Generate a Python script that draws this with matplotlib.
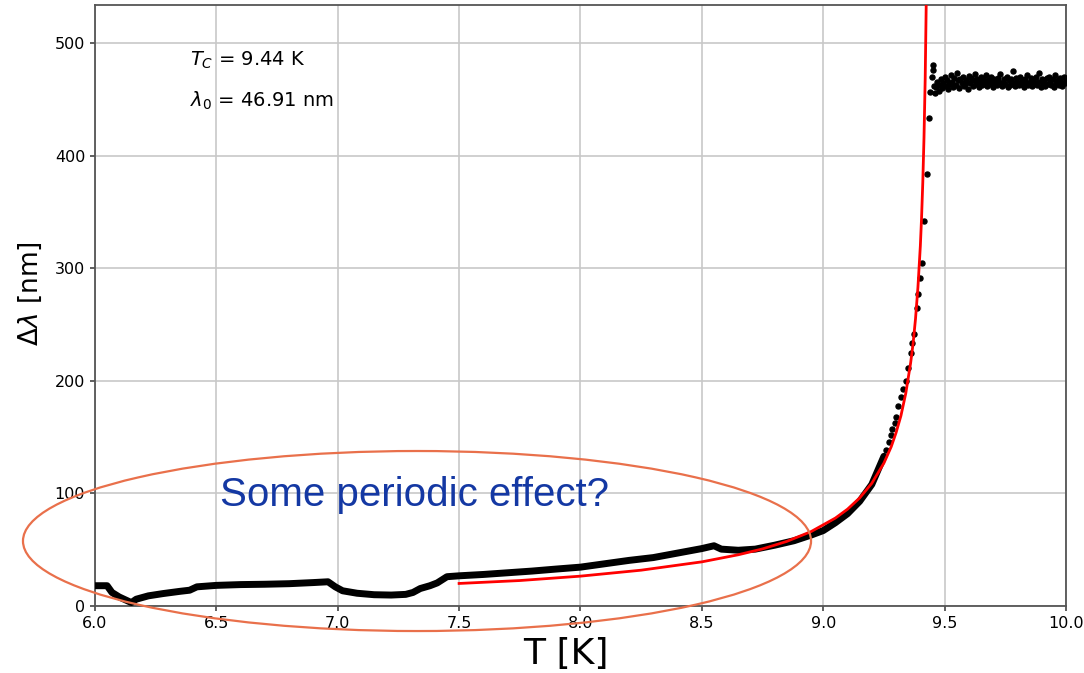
import numpy as np
import matplotlib
matplotlib.use("Agg")
import matplotlib.pyplot as plt
from matplotlib.patches import Ellipse

# fit parameters shown on the chart
Tc = 9.44
lam0 = 46.91

# measured data, low temperature part (dense trace)
T_low = [6.00, 6.05, 6.07, 6.10, 6.15, 6.17, 6.22, 6.28, 6.35, 6.39, 6.42, 6.50,
         6.60, 6.70, 6.80, 6.90, 6.96, 6.99, 7.02, 7.08, 7.15, 7.22, 7.28, 7.31,
         7.34, 7.38, 7.41, 7.45, 7.50, 7.60, 7.70, 7.80, 7.90, 8.00, 8.10, 8.20,
         8.30, 8.40, 8.50, 8.55, 8.58, 8.65, 8.72, 8.80, 8.88, 8.95, 9.00, 9.05,
         9.10, 9.15, 9.20, 9.23, 9.25]
dl_low = [18, 18, 12, 8, 3, 6, 9, 11, 13, 14, 17, 18.3,
          19, 19.3, 19.8, 20.8, 21.5, 17, 13.5, 11.3, 10, 9.7, 10.3, 12,
          15.5, 18, 20.5, 26, 26.8, 28, 29.5, 31, 32.8, 34.5, 37.5, 40.5,
          43, 47, 51, 53.5, 50.5, 49.5, 50.5, 54, 58, 63, 67, 74,
          82, 93, 108, 123, 133]

# measured data near the transition (single points)
T_tr = [9.260, 9.270, 9.280, 9.285, 9.295, 9.300, 9.310, 9.320, 9.330, 9.341,
        9.349, 9.362, 9.366, 9.374, 9.386, 9.390, 9.399, 9.407, 9.415, 9.427,
        9.436, 9.440, 9.449, 9.451, 9.453, 9.456]
dl_tr = [139, 146, 152, 157, 163, 168, 178, 186, 193, 200,
         211, 225, 234, 242, 265, 277, 291, 305, 342, 384,
         434, 457, 470, 476, 481, 462]

# normal state plateau
T_pl = [9.460, 9.465, 9.470, 9.475, 9.480, 9.485, 9.490, 9.495, 9.500, 9.505,
        9.510, 9.515, 9.520, 9.525, 9.530, 9.535, 9.540, 9.545, 9.550, 9.555,
        9.560, 9.565, 9.570, 9.575, 9.580, 9.585, 9.590, 9.595, 9.600, 9.605,
        9.610, 9.615, 9.620, 9.625, 9.630, 9.635, 9.640, 9.645, 9.650, 9.655,
        9.660, 9.665, 9.670, 9.675, 9.680, 9.685, 9.690, 9.695, 9.700, 9.705,
        9.710, 9.715, 9.720, 9.725, 9.730, 9.735, 9.740, 9.745, 9.750, 9.755,
        9.760, 9.765, 9.770, 9.775, 9.780, 9.785, 9.790, 9.795, 9.800, 9.805,
        9.810, 9.815, 9.820, 9.825, 9.830, 9.835, 9.840, 9.845, 9.850, 9.855,
        9.860, 9.865, 9.870, 9.875, 9.880, 9.885, 9.890, 9.895, 9.900, 9.905,
        9.910, 9.915, 9.920, 9.925, 9.930, 9.935, 9.940, 9.945, 9.950, 9.955,
        9.960, 9.965, 9.970, 9.975, 9.980, 9.985, 9.990, 9.995, 10.000]
dl_pl = [456, 461, 466, 458, 463, 468, 460, 465, 470, 462,
         467, 459, 464, 472, 466, 461, 469, 463, 474, 467,
         460, 468, 465, 470, 462, 464, 467, 459, 471, 465,
         469, 462, 467, 473, 464, 468, 461, 466, 470, 463,
         468, 465, 472, 462, 467, 464, 470, 466, 461, 468,
         465, 463, 469, 466, 473, 462, 465, 468, 464, 470,
         461, 467, 463, 468, 475, 465, 462, 469, 466, 463,
         470, 464, 467, 461, 468, 465, 472, 463, 466, 469,
         462, 467, 465, 470, 463, 466, 474, 461, 468, 465,
         467, 462, 469, 464, 470, 466, 463, 468, 461, 472,
         465, 467, 463, 469, 466, 462, 470, 465, 468]

# fitted curve
T_fit = [7.50, 7.75, 8.00, 8.25, 8.50, 8.65, 8.75, 8.85, 8.95, 9.05, 9.10,
         9.15, 9.20, 9.25, 9.28, 9.30, 9.32, 9.34, 9.36, 9.37, 9.38, 9.39,
         9.40, 9.405, 9.41, 9.415, 9.42, 9.425]
dl_fit = [20, 22.6, 26.5, 31.8, 39.2, 45.5, 50.7, 57.4, 66.1, 78.1, 86,
          96, 109, 127, 141.5, 154, 169, 189, 216, 233, 255, 283,
          320, 345, 376, 416, 469, 548]

plt.rcParams['font.family'] = ['DejaVu Sans']

fig = plt.figure(figsize=(10.84, 6.73), dpi=100)
ax = fig.add_axes([0.0876, 0.0996, 0.8958, 0.893])

ax.plot(T_low, dl_low, color="black", lw=5, solid_capstyle="round", zorder=3)
ax.plot(T_tr, dl_tr, "o", color="black", ms=3.6, zorder=3)
ax.plot(T_pl, dl_pl, "o", color="black", ms=3.6, zorder=3)
ax.plot(T_fit, dl_fit, color="red", lw=2, zorder=4)

ax.set_xlim(6.0, 10.0)
ax.set_ylim(0, 534)
ax.set_xticks([6.0, 6.5, 7.0, 7.5, 8.0, 8.5, 9.0, 9.5, 10.0])
ax.set_yticks([0, 100, 200, 300, 400, 500])
ax.tick_params(labelsize=11.5, color="#444444", width=1.2)
ax.grid(True, color="#c8c8c8", lw=1.2)
ax.set_axisbelow(True)
for s in ax.spines.values():
    s.set_color("#555555")
    s.set_linewidth(1.3)

ax.set_xlabel("T [K]", fontsize=26)
ax.xaxis.set_label_coords(0.485, -0.052)
ax.set_ylabel(r"$\Delta\lambda$ [nm]", fontsize=19)
ax.yaxis.set_label_coords(-0.052, 0.52)

ax.text(6.39, 485, r"$T_C$ = %.2f K" % Tc, fontsize=14, va="center")
ax.text(6.39, 449, r"$\lambda_0$ = %.2f nm" % lam0, fontsize=14, va="center")

ax.text(7.318, 99, "Some periodic effect?", fontsize=29, color="#1438A3",
        family="Liberation Sans", ha="center", va="center", zorder=5)

ell = Ellipse((0.3847, 0.1961), 0.727, 0.2675, transform=fig.transFigure,
              fill=False, edgecolor="#E9704B", lw=1.6, clip_on=False, zorder=6)
fig.add_artist(ell)

fig.savefig("out.png", dpi=100)
